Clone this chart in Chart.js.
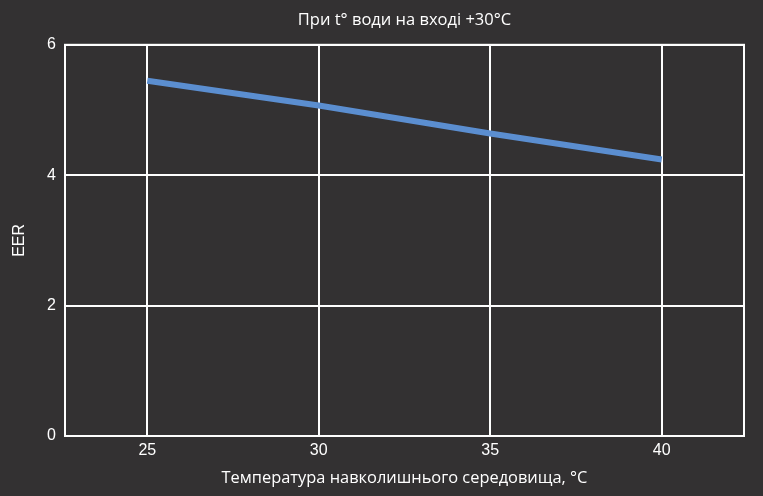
<!DOCTYPE html>
<html>
<head>
<meta charset="utf-8">
<script src="https://cdn.jsdelivr.net/npm/chart.js@4/dist/chart.umd.min.js"></script>
<style>
  html, body { margin: 0; padding: 0; background: #333132; }
  #wrap { width: 763px; height: 496px; }
</style>
</head>
<body>
<div id="wrap"><canvas id="grafico" width="763" height="496"></canvas></div>
<script>
// temperatura ambiente (x) y EER
const temperaturas = [25, 30, 35, 40];
const eer = [5.45, 5.07, 4.64, 4.24];
const ticksX = [25, 30, 35, 40];
const ticksY = [0, 2, 4, 6];

const titulo = "При t° води на вході +30°C";
const tituloX = "Температура навколишнього середовища, °C";
const tituloY = "EER";

const blanco = "#ffffff";

// marco blanco alrededor del area del grafico
const marco = {
  id: "marco",
  afterDraw(chart) {
    const a = chart.chartArea;
    const ctx = chart.ctx;
    ctx.save();
    ctx.strokeStyle = blanco;
    ctx.lineWidth = 2;
    ctx.strokeRect(a.left, a.top, a.right - a.left, a.bottom - a.top);
    ctx.restore();
  }
};

let ctx = document.querySelector("#grafico").getContext("2d");
let myChart = new Chart(ctx, {
  type: "line",
  data: {
    datasets: [{
      label: "EER",
      data: temperaturas.map((t, i) => ({ x: t, y: eer[i] })),
      borderColor: "#5b8ed0",
      borderWidth: 6,
      borderCapStyle: "butt",
      pointRadius: 0,
      tension: 0,
      fill: false
    }]
  },
  options: {
    responsive: false,
    animation: false,
    layout: { padding: { left: 0, right: 19, top: 0, bottom: 0 } },
    plugins: {
      legend: { display: false },
      tooltip: { enabled: false },
      title: {
        display: true,
        text: titulo,
        color: blanco,
        fullSize: false,
        font: { family: "'Open Sans', sans-serif", size: 16.5, weight: "normal", lineHeight: 1.2 },
        padding: { top: 10, bottom: 15 }
      }
    },
    scales: {
      x: {
        type: "linear",
        min: 22.6,
        max: 42.4,
        afterBuildTicks: (s) => { s.ticks = ticksX.map(v => ({ value: v })); },
        afterFit: (s) => { s.height = 60; },
        grid: { color: blanco, lineWidth: 2, drawTicks: false },
        border: { color: blanco, width: 2 },
        ticks: {
          color: blanco,
          padding: 5,
          maxRotation: 0,
          font: { family: "'Liberation Sans', Arial, sans-serif", size: 16 }
        },
        title: {
          display: true,
          text: tituloX,
          color: blanco,
          font: { family: "'Open Sans', sans-serif", size: 16.4, lineHeight: 1.2 },
          padding: { top: 0, bottom: 8 }
        }
      },
      y: {
        min: 0,
        max: 6,
        afterBuildTicks: (s) => { s.ticks = ticksY.map(v => ({ value: v })); },
        afterFit: (s) => { s.width = 65; },
        grid: { color: blanco, lineWidth: 2, drawTicks: false },
        border: { color: blanco, width: 2 },
        ticks: {
          color: blanco,
          padding: 9,
          font: { family: "'Liberation Sans', Arial, sans-serif", size: 16 }
        },
        title: {
          display: true,
          text: tituloY,
          color: blanco,
          font: { family: "'Liberation Sans', Arial, sans-serif", size: 16, lineHeight: 1.2 },
          padding: { top: 10, bottom: 0 }
        }
      }
    }
  },
  plugins: [marco]
});
</script>
</body>
</html>
